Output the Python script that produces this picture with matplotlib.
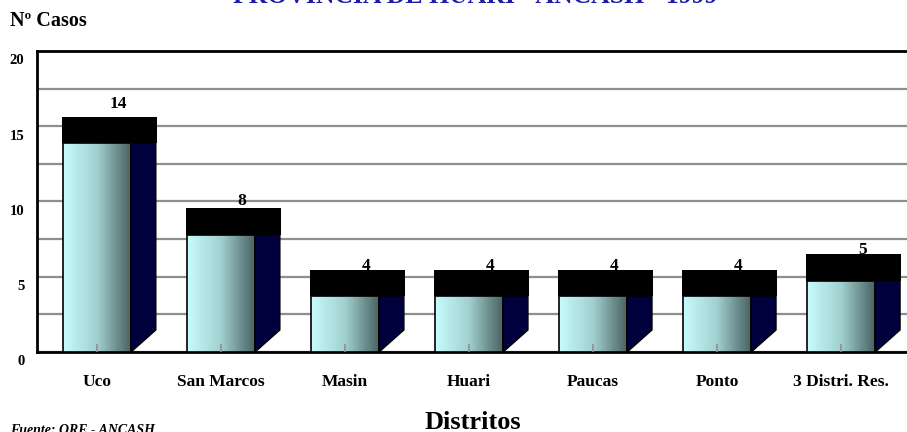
import numpy as np
import matplotlib
matplotlib.use("Agg")
import matplotlib.pyplot as plt
from matplotlib.patches import Rectangle, Polygon
from matplotlib.colors import LinearSegmentedColormap
import matplotlib.transforms as mtransforms

# cases per district
distritos = ["Uco", "San Marcos", "Masin", "Huari", "Paucas", "Ponto", "3 Distri. Res."]
casos = [14, 8, 4, 4, 4, 4, 5]

titulo = "PROVINCIA DE HUARI - ANCASH - 1999"
fuente = "Fuente: ORE - ANCASH"
y_ticks = [0, 5, 10, 15, 20]

plt.rcParams['font.family'] = ['Liberation Serif', 'DejaVu Serif']
plt.rcParams['font.weight'] = 'bold'

fig = plt.figure(figsize=(9.07, 4.32), dpi=100)
ax = fig.add_axes([37 / 907, 1 - 352 / 432, 1 - 37 / 907, 301 / 432])
ax.set_xlim(-0.484, 6.53)
ax.set_ylim(0, 20)

# front plane of the 3D chart: same scale as the back wall but shifted,
# so the floor sits a little above zero
front = ax.twinx()
floor = 0.34
front.set_ylim(floor, 20.0)
front.set_yticks([])
for s in front.spines.values():
    s.set_visible(False)

half_w = 0.274        # half width of the front face
dx, dy = 0.20, 1.44   # depth of the side face
cap = 1.72            # black cap on top of each bar

grad = np.linspace(0, 1, 256).reshape(1, -1)
cmap = LinearSegmentedColormap.from_list("cil", ["#c8fcfc", "#a2d0d0", "#4a6262"])

for i, v in enumerate(casos):
    x0 = i - half_w
    front.imshow(grad, extent=(x0, x0 + 2 * half_w, floor, v), aspect='auto',
                 cmap=cmap, interpolation='bicubic', zorder=3)
    front.add_patch(Rectangle((x0, floor), 2 * half_w, v - floor, facecolor='none',
                              edgecolor='black', lw=1.2, zorder=4))
    xr = i + half_w
    front.add_patch(Polygon([(xr, floor), (xr + dx, floor + dy), (xr + dx, v), (xr, v)],
                            closed=True, facecolor='#00003c', edgecolor='black',
                            lw=1.0, zorder=3))
    # value labels drift upward with bar height and sit behind the cap
    lab_y = v * 1.06 + 1.72
    front.text(i + 0.17, lab_y, str(v), ha='center', va='center',
               fontsize=12.5, zorder=5)
    front.add_patch(Rectangle((x0 - 0.01, v), 2 * half_w + dx + 0.02, cap,
                              facecolor='black', edgecolor='none', zorder=6))

# small tick marks at the bar centres
front.vlines(range(len(distritos)), floor, floor + 0.55, color='#909090', lw=1.2, zorder=7)

front.set_xlim(-0.484, 6.53)
front.set_ylim(floor, 20.0)

ax.set_xticks(range(len(distritos)))
ax.set_xticklabels(distritos, fontsize=12.5)
ax.tick_params(axis='x', length=0, pad=16)

ax.set_yticks(y_ticks)
ax.set_yticks(np.arange(0, 20.1, 2.5), minor=True)
ax.tick_params(axis='y', which='both', length=0, pad=9, labelsize=10.5)
offset = mtransforms.ScaledTranslation(0, -6 / 72, fig.dpi_scale_trans)
for lab in ax.get_yticklabels():
    lab.set_transform(lab.get_transform() + offset)

ax.grid(True, axis='y', which='both', color='#8e8e8e', lw=1.6, zorder=1)
ax.set_axisbelow(True)

for side in ['left', 'top', 'bottom']:
    ax.spines[side].set_linewidth(2)
    ax.spines[side].set_color('black')
ax.spines['right'].set_visible(False)

fig.text(475 / 907, 1 - 3 / 432, titulo, ha='center', va='baseline',
         fontsize=18.5, color='#1c1ca8')
fig.text(10 / 907, 1 - 21 / 432, "Nº Casos", ha='left', va='center', fontsize=14.5)
fig.text(473 / 907, 1 - 429 / 432, "Distritos", ha='center', va='baseline', fontsize=19)
fig.text(10 / 907, -2 / 432, fuente, ha='left', va='baseline', fontsize=10,
         style='italic')

fig.savefig("out.png", dpi=100)
